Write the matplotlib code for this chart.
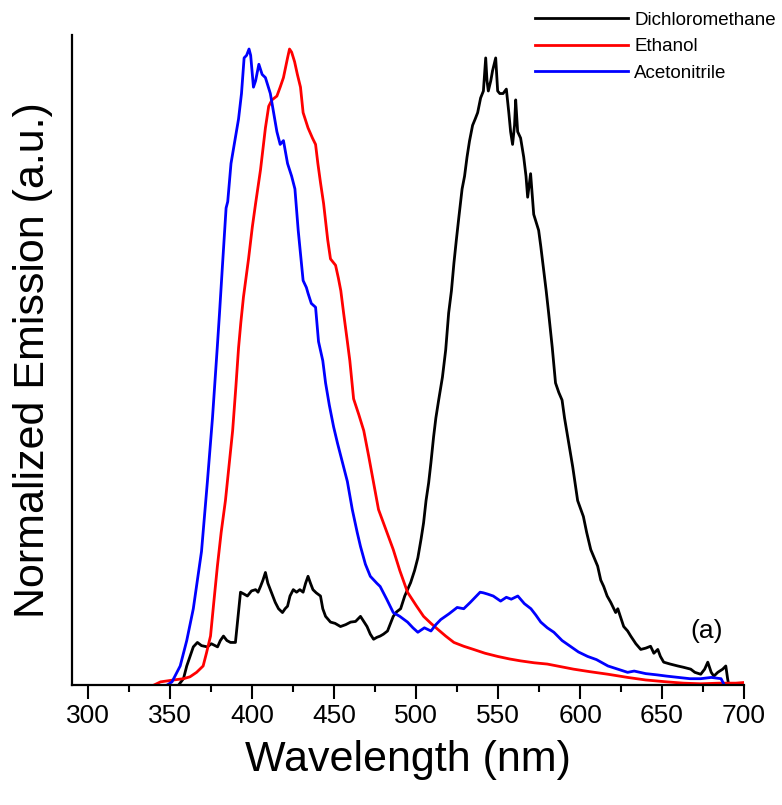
import matplotlib
matplotlib.use("Agg")
import matplotlib.pyplot as plt
from matplotlib.ticker import MultipleLocator, NullLocator

plt.rcParams["font.family"] = ["Liberation Sans", "DejaVu Sans"]

# Dichloromethane emission (wavelength nm, normalized intensity)
dcm_wl = [355, 358, 360, 362, 364, 366.5, 369, 372.6, 375, 378.8, 380.5, 382.4, 384.5, 386.7,
          389.7, 391, 392.8, 395, 397, 399.5, 402, 403.5, 405, 406.5, 408, 409.5, 411, 412.5,
          414, 416, 418.4, 420, 421.5, 423, 425, 427, 429, 431, 432.5, 434, 435.5, 437, 439,
          441.6, 443, 444.7, 447.7, 450.5, 453.8, 457, 460, 463, 466, 468, 470, 472, 474, 476,
          478, 480, 482.5, 484, 486, 488, 490.5, 493, 496.6, 499, 501, 503, 504.5, 506, 507.6,
          509, 510.6, 512, 513.7, 516, 518, 519.8, 521.5, 523, 524.5, 526, 528, 529.5, 531,
          532.5, 534.4, 536, 537.5, 539.3, 541, 542.4, 543.2, 544, 545.5, 546.6, 548.5, 549.7,
          551, 553, 555, 556.5, 557.6, 558.8, 560, 560.7, 561.9, 563.7, 565.6, 567, 568, 569.8,
          571.7, 574.7, 576, 577.8, 579.3, 580.8, 583, 585, 587, 589, 590.5, 592, 595.5, 598.5,
          602, 604, 606.5, 610.7, 612.6, 614.4, 616.5, 618.7, 621.7, 623, 626.6, 629, 630.9,
          634, 637, 640, 643, 645, 647.4, 649, 651, 655, 659.6, 663, 667.5, 670, 673.6, 676,
          677.9, 680, 681.6, 684, 687, 688.9, 690, 690.7]
dcm_int = [0.0, 0.01, 0.03, 0.045, 0.06, 0.067, 0.062, 0.06, 0.065, 0.06, 0.07, 0.077, 0.07, 0.067,
           0.067, 0.1, 0.146, 0.143, 0.14, 0.148, 0.15, 0.146, 0.155, 0.165, 0.177, 0.16, 0.15, 0.14,
           0.13, 0.12, 0.114, 0.12, 0.124, 0.14, 0.15, 0.146, 0.15, 0.146, 0.16, 0.171, 0.16, 0.15, 0.145,
           0.14, 0.12, 0.108, 0.099, 0.097, 0.092, 0.095, 0.099, 0.1, 0.108, 0.1, 0.092, 0.08, 0.072, 0.075,
           0.077, 0.08, 0.085, 0.095, 0.108, 0.115, 0.12, 0.14, 0.161, 0.18, 0.2, 0.23, 0.255, 0.29, 0.318,
           0.35, 0.39, 0.42, 0.448, 0.484, 0.527, 0.585, 0.62, 0.663, 0.7, 0.735, 0.78, 0.8, 0.83,
           0.855, 0.88, 0.89, 0.9, 0.923, 0.934, 0.986, 0.95, 0.934, 0.95, 0.966, 0.986, 0.934,
           0.93, 0.93, 0.937, 0.9, 0.87, 0.85, 0.88, 0.92, 0.87, 0.86, 0.83, 0.8, 0.767, 0.804,
           0.74, 0.715, 0.69, 0.652, 0.62, 0.585, 0.531, 0.475, 0.46, 0.448, 0.42, 0.397, 0.343, 0.29,
           0.265, 0.24, 0.213, 0.187, 0.165, 0.155, 0.14, 0.13, 0.114, 0.12, 0.092, 0.085, 0.077,
           0.065, 0.056, 0.058, 0.061, 0.05, 0.056, 0.045, 0.036, 0.033, 0.03, 0.028, 0.025, 0.02, 0.017, 0.025,
           0.036, 0.02, 0.014, 0.02, 0.025, 0.03, 0.01, 0.0]

# Ethanol emission
eth_wl = [340, 344, 352, 358, 362, 366, 370, 372, 374.5, 376.5, 378.7, 381, 383.6, 386, 388, 390,
          391.6, 393, 394.6, 397.7, 400, 402, 405, 408, 410, 412, 415, 417, 419, 421.5, 422.7, 424,
          425.8, 427.5, 429.4, 431, 434, 436.7, 438.6, 440, 441.6, 443.5, 446, 447.7, 450.8, 452.5,
          454, 455.7, 458, 459.5, 461.8, 465, 468, 471, 474, 477, 480, 483, 486, 490, 494.7, 500,
          504.5, 509, 513, 518, 523, 529, 535, 542, 549.7, 557, 563.7, 572, 580, 588, 596, 606,
          617, 629, 640, 653, 663, 673.6, 685, 695, 700]
eth_int = [0.0, 0.005, 0.008, 0.01, 0.013, 0.02, 0.03, 0.05, 0.077, 0.13, 0.187, 0.24, 0.29, 0.35, 0.4, 0.47,
           0.53, 0.57, 0.61, 0.67, 0.72, 0.757, 0.81, 0.876, 0.91, 0.92, 0.926, 0.94, 0.955, 0.986, 1.0, 0.995,
           0.98, 0.96, 0.94, 0.9, 0.876, 0.86, 0.85, 0.82, 0.79, 0.757, 0.7, 0.67, 0.66, 0.64,
           0.62, 0.585, 0.54, 0.51, 0.45, 0.425, 0.4, 0.36, 0.318, 0.276, 0.255, 0.234, 0.213, 0.18, 0.146, 0.125,
           0.108, 0.097, 0.088, 0.077, 0.067, 0.061, 0.056, 0.05, 0.045, 0.041, 0.038, 0.035, 0.033, 0.029, 0.025, 0.021,
           0.017, 0.012, 0.008, 0.005, 0.003, 0.002, 0.003, 0.003, 0.004]

# Acetonitrile emission
acn_wl = [348, 351, 356, 360, 364, 369, 372.6, 375.7, 378.6, 380, 381.8, 384, 385, 387, 391.6, 393.4,
          395, 396.5, 398, 399, 400.7, 402, 404, 406, 408, 411, 413, 415, 417, 419, 421.5, 424, 426,
          428, 431, 433, 434, 436, 438.6, 440.4, 443, 444.7, 447, 449.6, 452, 455.7, 458, 461, 464,
          466, 469, 472, 476, 478, 482, 486, 490, 494.7, 498, 501, 505, 509, 512, 515, 520, 525,
          529, 533, 536, 539, 541, 543.6, 547, 551.5, 555, 558, 562, 566, 570, 573, 576, 580, 584,
          589, 594, 599, 604.6, 610, 617, 623, 629, 633, 640, 647, 653, 660, 667, 673.6, 680, 686, 688]
acn_int = [0.0, 0.005, 0.03, 0.07, 0.12, 0.21, 0.32, 0.42, 0.53, 0.585, 0.66, 0.75, 0.76, 0.82, 0.89, 0.93,
           0.986, 0.99, 1.0, 0.99, 0.94, 0.95, 0.976, 0.96, 0.955, 0.93, 0.9, 0.87, 0.85, 0.856, 0.82, 0.8, 0.78,
           0.715, 0.636, 0.625, 0.616, 0.6, 0.594, 0.54, 0.51, 0.475, 0.44, 0.406, 0.38, 0.343, 0.32, 0.276, 0.24,
           0.218, 0.19, 0.171, 0.16, 0.155, 0.135, 0.114, 0.108, 0.099, 0.09, 0.083, 0.09, 0.085, 0.095, 0.103, 0.112, 0.122,
           0.12, 0.13, 0.138, 0.146, 0.145, 0.143, 0.14, 0.132, 0.138, 0.135, 0.14, 0.128, 0.12, 0.11, 0.099, 0.09, 0.083,
           0.07, 0.061, 0.052, 0.045, 0.04, 0.03, 0.025, 0.02, 0.022, 0.018, 0.016, 0.014, 0.012, 0.01, 0.01, 0.012, 0.01, 0.0]

fig = plt.figure(figsize=(7.82, 8.05), dpi=100)
ax = fig.add_axes([0.0921, 0.149, 0.8593, 0.8075])

ax.plot(dcm_wl, dcm_int, color="black", lw=2.0, label="Dichloromethane")
ax.plot(eth_wl, eth_int, color="#ff0000", lw=2.0, label="Ethanol")
ax.plot(acn_wl, acn_int, color="#0000ff", lw=2.0, label="Acetonitrile")

ax.set_xlim(290, 700)
ax.set_ylim(0, 1.022)

ax.spines["top"].set_visible(False)
ax.spines["right"].set_visible(False)
ax.spines["left"].set_linewidth(1.6)
ax.spines["bottom"].set_linewidth(1.6)

ax.xaxis.set_major_locator(MultipleLocator(50))
ax.xaxis.set_minor_locator(MultipleLocator(25))
ax.yaxis.set_major_locator(NullLocator())
ax.tick_params(axis="x", which="major", length=10, width=1.5, labelsize=19, pad=4)
ax.tick_params(axis="x", which="minor", length=5, width=1.5)

ax.set_xlabel("Wavelength (nm)", fontsize=31, labelpad=8)
ax.set_ylabel("Normalized Emission (a.u.)", fontsize=31, labelpad=14)

ax.text(677, 0.085, "(a)", fontsize=19, ha="center", va="center")

fig.legend(loc="upper left", bbox_to_anchor=(0.679, 0.99), frameon=False,
           fontsize=13.5, handlelength=5.0, handletextpad=0.3, labelspacing=0.5,
           borderpad=0.2, borderaxespad=0)

fig.savefig("out.png", dpi=100)
